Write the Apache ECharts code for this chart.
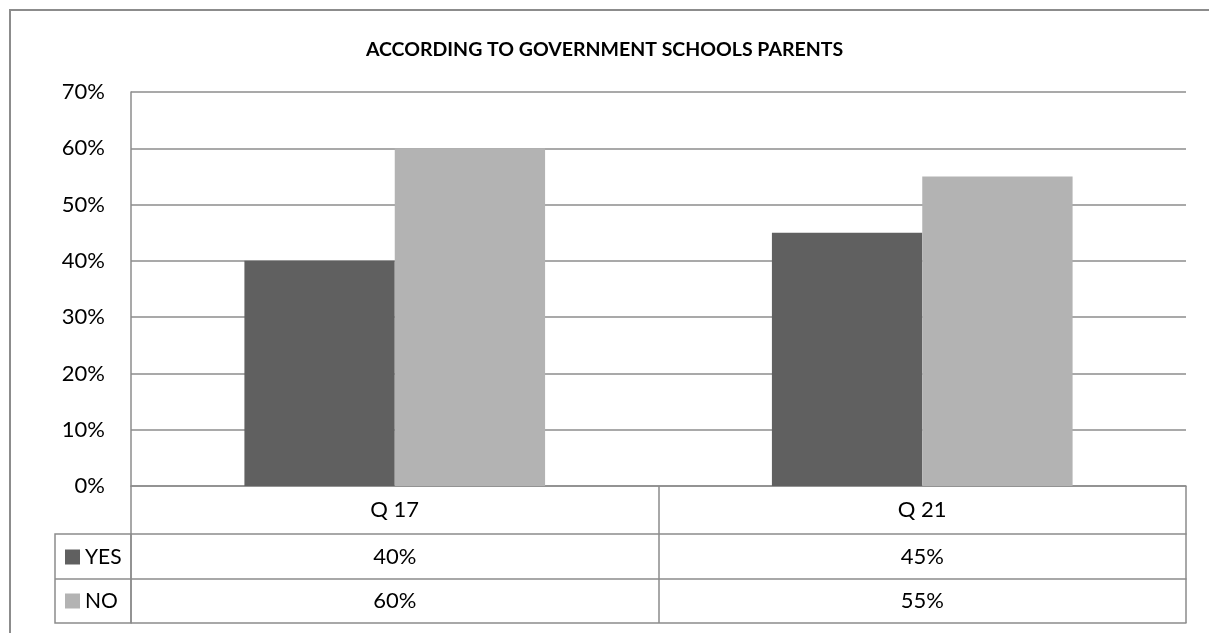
<!DOCTYPE html>
<html>
<head>
<meta charset="utf-8">
<script src="https://cdn.jsdelivr.net/npm/echarts@6/dist/echarts.min.js"></script>
<style>html,body{margin:0;padding:0;background:#fff}#c{width:1209px;height:633px}</style>
</head>
<body>
<div id="c"></div>
<script>
const title = 'ACCORDING TO GOVERNMENT SCHOOLS PARENTS';
const categories = ['Q 17', 'Q 21'];
const seriesNames = ['YES', 'NO'];
const yesValues = [40, 45];
const noValues = [60, 55];
const yTicks = [0, 10, 20, 30, 40, 50, 60, 70];

const FONT = 'Lato, "Open Sans", sans-serif';
const LINE = '#8c8c8c';
const colors = ['#606060', '#b3b3b3'];
const BODY = 21;

const chart = echarts.init(document.getElementById('c'));

function rowAxis(data, offset, tickLen, margin, showTicks) {
  return {
    type: 'category',
    data: data,
    position: 'bottom',
    offset: offset,
    boundaryGap: true,
    axisLine: { show: true, lineStyle: { color: LINE, width: 1.5 } },
    axisTick: { show: showTicks, length: tickLen, alignWithLabel: false, lineStyle: { color: LINE, width: 1.5 } },
    axisLabel: { show: data.length > 0, margin: margin, color: '#000', fontSize: 22, fontFamily: FONT },
    splitLine: { show: false }
  };
}

chart.setOption({
  animation: false,
  backgroundColor: '#fff',
  title: {
    text: title,
    left: 'center',
    top: 35,
    textStyle: { fontSize: 19.5, fontWeight: 'bold', color: '#000', fontFamily: FONT }
  },
  legend: {
    data: seriesNames,
    orient: 'vertical',
    left: 65,
    top: 546,
    padding: 0,
    itemGap: 22,
    itemWidth: 15,
    itemHeight: 15,
    icon: 'rect',
    textStyle: { fontSize: BODY, color: '#000', fontFamily: FONT, lineHeight: 22 },
    selectedMode: false
  },
  grid: { left: 131, top: 92, right: 23, bottom: 147, containLabel: false },
  yAxis: {
    type: 'value',
    min: yTicks[0],
    max: yTicks[yTicks.length - 1],
    interval: 10,
    axisLine: { show: true, lineStyle: { color: LINE, width: 1.5 } },
    axisTick: { show: false },
    axisLabel: { formatter: '{value}%', margin: 26, color: '#000', fontSize: 22, fontFamily: FONT },
    splitLine: { show: true, lineStyle: { color: LINE, width: 1.5 } }
  },
  xAxis: [
    rowAxis(categories, 0, 48, 13, true),
    rowAxis(yesValues.map(v => v + '%'), 48, 45, 12, true),
    rowAxis(noValues.map(v => v + '%'), 93, 44, 11, true),
    rowAxis([], 137, 0, 0, false)
  ],
  series: [
    { name: seriesNames[0], type: 'bar', xAxisIndex: 0, data: yesValues, barGap: '0%', barCategoryGap: '43%', itemStyle: { color: colors[0] } },
    { name: seriesNames[1], type: 'bar', xAxisIndex: 0, data: noValues, barGap: '0%', barCategoryGap: '43%', itemStyle: { color: colors[1] } }
  ],
  graphic: [
    { type: 'rect', shape: { x: 10, y: 10, width: 1220, height: 700 }, style: { fill: null, stroke: LINE, lineWidth: 2 }, silent: true, z: 0 },
    { type: 'rect', shape: { x: 55, y: 534, width: 76, height: 89 }, style: { fill: null, stroke: LINE, lineWidth: 1.5 }, silent: true, z: 1 },
    { type: 'line', shape: { x1: 55, y1: 579, x2: 131, y2: 579 }, style: { stroke: LINE, lineWidth: 1.5 }, silent: true, z: 1 }
  ]
});
</script>
</body>
</html>
